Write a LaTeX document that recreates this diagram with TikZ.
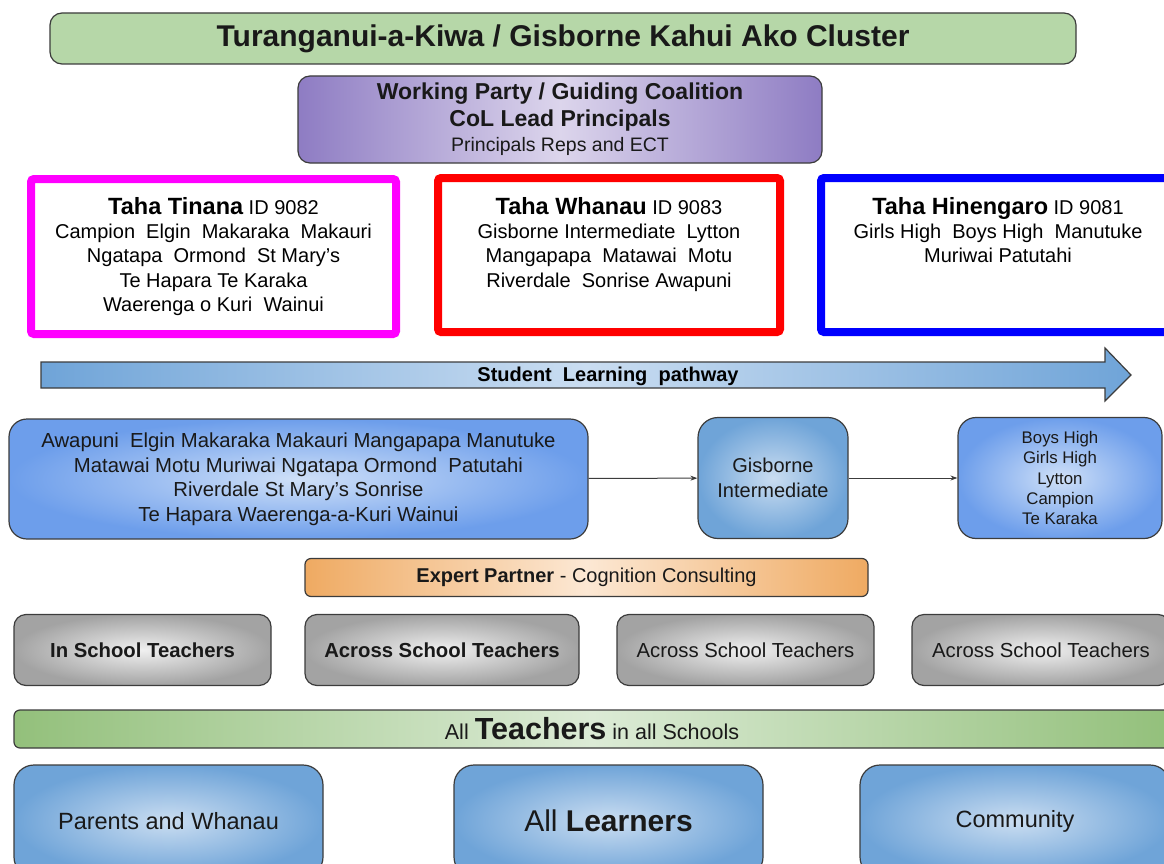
\documentclass[tikz,border=0pt]{standalone}
\usepackage{fontspec}
\setmainfont{Liberation Sans}
\usetikzlibrary{arrows.meta,positioning}
\definecolor{banner}{HTML}{B6D7A8}
\definecolor{pink}{HTML}{FF00FF}
\definecolor{lilac}{HTML}{8E7CC3}
\definecolor{lilaclight}{HTML}{DCD5EC}
\definecolor{sky}{HTML}{6D9EEB}
\definecolor{skylight}{HTML}{CFE0F8}
\definecolor{steel}{HTML}{6FA4D8}
\definecolor{steellight}{HTML}{CADDF1}
\definecolor{peach}{HTML}{EFAA62}
\definecolor{peachlight}{HTML}{FCE8D4}
\definecolor{leaf}{HTML}{93C07B}
\definecolor{leaflight}{HTML}{DCEBD6}
\definecolor{edge}{HTML}{3C3C3C}

\begin{document}
\begin{tikzpicture}[x=1pt,y=-1pt,
  box/.style={rectangle, draw=edge, line width=1.2pt, rounded corners=12pt, inner sep=0pt, align=center, text=black!90},
  tahabox/.style={rectangle, draw=#1, line width=8pt, rounded corners=3pt, inner sep=0pt},
  tahatext/.style={anchor=north, align=center, inner sep=0pt, font=\fontsize{20}{24.3}\selectfont},
  skybox/.style={box, rounded corners=18pt, inner color=skylight, outer color=sky},
  steelbox/.style={box, rounded corners=20pt, inner color=steellight, outer color=steel},
  greybox/.style={box, inner color=black!6, outer color=black!36, font=\fontsize{20.3}{22}\selectfont},
  link/.style={-{Stealth[length=7pt,width=5pt]}, line width=1pt, draw=edge}]
\clip (0,0) rectangle (1164,864);

\node[box, fill=banner, minimum width=1026, minimum height=51, font=\fontsize{30}{32}\selectfont\bf] (cluster) at (563,38.5){Turanganui-a-Kiwa / Gisborne Kahui Ako Cluster};
\node[box, left color=lilac, right color=lilac, middle color=lilaclight, minimum width=524, minimum height=87, font=\fontsize{23}{27}\selectfont] (party) at (560,119.5){\bf Working Party / Guiding Coalition\\\bf CoL Lead Principals\\[-2pt]\fontsize{19.5}{20}\selectfont Principals Reps and ECT};

\node[tahabox=pink, minimum width=365, minimum height=155] (tinana) at (213.5,256.5){};
\node[tahabox=red, minimum width=342, minimum height=154] (whanau) at (609,255){};
\node[tahabox=blue, minimum width=354, minimum height=154] (hinengaro) at (998,255){};
\node[tahatext] (tinanatext) at ([yshift=-22pt]tinana.north){{\fontsize{23.5}{24}\selectfont\bf Taha Tinana} ID 9082\\Campion~ Elgin~ Makaraka~ Makauri\\Ngatapa~ Ormond~ St Mary’s\\Te Hapara Te Karaka\\Waerenga o Kuri~ Wainui};
\node[tahatext] (whanautext) at ([yshift=-23pt]whanau.north){{\fontsize{23.5}{24}\selectfont\bf Taha Whanau} ID 9083\\Gisborne Intermediate~ Lytton\\Mangapapa~ Matawai~ Motu\\Riverdale~ Sonrise Awapuni};
\node[tahatext] (hinengarotext) at ([yshift=-23pt]hinengaro.north){{\fontsize{23.5}{24}\selectfont\bf Taha Hinengaro} ID 9081\\Girls High~ Boys High~ Manutuke\\Muriwai Patutahi};

% pathway arrow
\shadedraw[draw=edge, line width=1.2pt, left color=steel, right color=steel, middle color=steellight]
  (41,362) -- (1105,362) -- (1105,348) -- (1131,375) -- (1105,401) -- (1105,388) -- (41,388) -- cycle;
\node[font=\fontsize{20}{22}\selectfont\bf] (pathway) at (608,376){Student~ Learning~ pathway};

\node[skybox, minimum width=579, minimum height=120, font=\fontsize{20.3}{24.5}\selectfont] (primary) at (298.5,479){Awapuni~ Elgin Makaraka Makauri Mangapapa Manutuke\\Matawai Motu Muriwai Ngatapa Ormond~ Patutahi\\Riverdale St Mary’s Sonrise\\Te Hapara Waerenga-a-Kuri Wainui};
\node[steelbox, minimum width=150, minimum height=121, font=\fontsize{20}{25}\selectfont] (gisint) at (773,478){Gisborne\\Intermediate};
\node[skybox, minimum width=204, minimum height=121, font=\fontsize{16.8}{20.3}\selectfont] (senior) at (1060,478){Boys High\\Girls High\\Lytton\\Campion\\Te Karaka};

\draw[link] (primary) to (gisint);
\draw[link] (gisint) to (senior);

\node[box, rounded corners=6pt, left color=peach, right color=peach, middle color=peachlight, minimum width=563, minimum height=38, font=\fontsize{20}{22}\selectfont] (expert) at (586.5,577.5){\bf Expert Partner \rm- Cognition Consulting};

\node[greybox, minimum width=257, minimum height=71] (inschool) at (142.5,650){\bf In School Teachers};
\node[greybox, minimum width=274, minimum height=71] (across1) at (442,650){\bf Across School Teachers};
\node[greybox, minimum width=257, minimum height=71] (across2) at (745.5,650){Across School Teachers};
\node[greybox, minimum width=258, minimum height=71] (across3) at (1041,650){Across School Teachers};

\node[box, rounded corners=6pt, left color=leaf, right color=leaf, middle color=leaflight, minimum width=1156, minimum height=38, font=\fontsize{21.5}{24}\selectfont] (allteachers) at (592,729){All {\fontsize{30.5}{32}\selectfont\bf Teachers} in all Schools};

\node[steelbox, minimum width=309, minimum height=112, font=\fontsize{23.5}{26}\selectfont] (parents) at (168.5,821){Parents and Whanau};
\node[steelbox, minimum width=309, minimum height=112, font=\fontsize{30}{32}\selectfont] (learners) at (608.5,821){All \bf Learners};
\node[steelbox, minimum width=310, minimum height=112, font=\fontsize{23.5}{26}\selectfont] (community) at (1015,821){Community};

\end{tikzpicture}
\end{document}
